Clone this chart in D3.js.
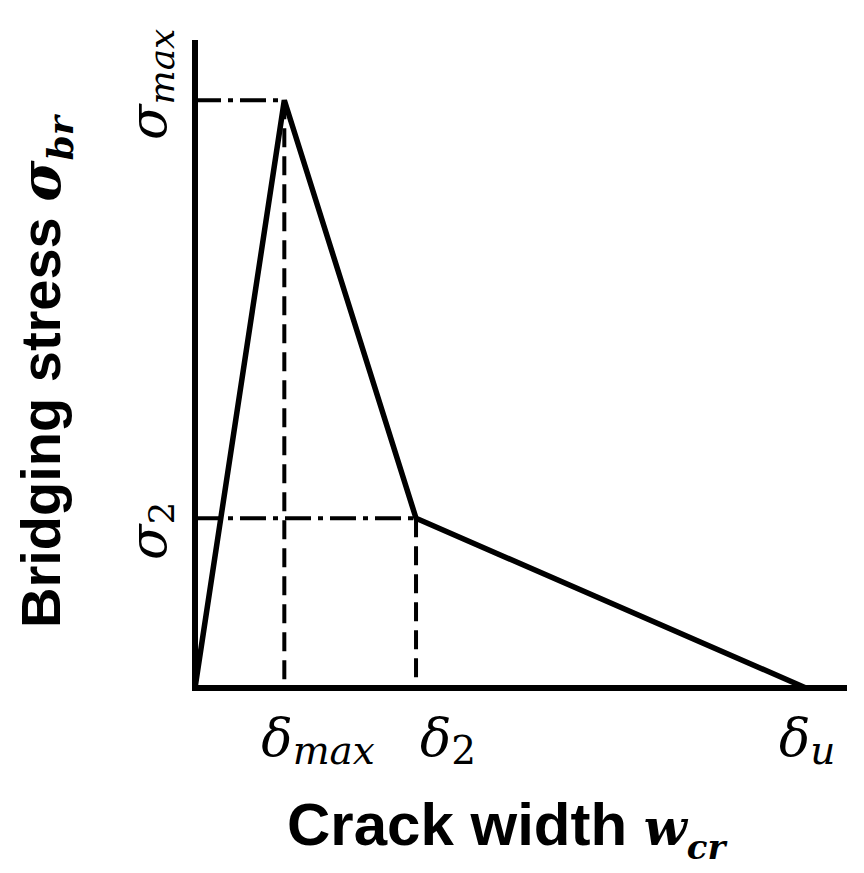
<!DOCTYPE html>
<html>
<head>
<meta charset="utf-8">
<script src="https://cdn.jsdelivr.net/npm/d3@7"></script>
<style>
  body { margin: 0; background: #fff; }
</style>
</head>
<body>
<script>
// chart size
var w = 864;
var h = 873;

// curve corners (crack width, bridging stress) in arbitrary units
var crackWidth = [0, 1.37, 3.39, 9.37];
var stress = [0, 9.07, 2.62, 0];
var xTickNames = ["max", "2", "u"];
var yTickNames = ["max", "2"];

var x = d3.scaleLinear().domain([0, 10]).range([195, 847]);
var y = d3.scaleLinear().domain([0, 10]).range([688, 40]);

var svg = d3.select("body")
  .append("svg")
  .attr("width", w)
  .attr("height", h);

var pts = crackWidth.map(function(d, i) { return [d, stress[i]]; });

// dash-dot guides to the y axis
svg.selectAll("line.hguide")
  .data([1, 2])
  .enter()
  .append("line")
  .attr("class", "hguide")
  .attr("x1", x(0))
  .attr("x2", function(i) { return x(crackWidth[i]); })
  .attr("y1", function(i) { return y(stress[i]); })
  .attr("y2", function(i) { return y(stress[i]); })
  .attr("stroke", "black")
  .attr("stroke-width", 4)
  .attr("stroke-dasharray", "26,7,5,7");

// dashed guides to the x axis
svg.selectAll("line.vguide")
  .data([1, 2])
  .enter()
  .append("line")
  .attr("class", "vguide")
  .attr("x1", function(i) { return x(crackWidth[i]); })
  .attr("x2", function(i) { return x(crackWidth[i]); })
  .attr("y1", function(i) { return y(stress[i]); })
  .attr("y2", y(0))
  .attr("stroke", "black")
  .attr("stroke-width", 4)
  .attr("stroke-dasharray", "19,9");

// the curve
svg.append("path")
  .datum(pts)
  .attr("d", d3.line().x(function(d) { return x(d[0]); }).y(function(d) { return y(d[1]); }))
  .attr("fill", "none")
  .attr("stroke", "black")
  .attr("stroke-width", 5.5)
  .attr("stroke-linejoin", "miter");

// axes
svg.append("line")
  .attr("x1", x(0)).attr("x2", x(0))
  .attr("y1", y(10)).attr("y2", y(0) + 3)
  .attr("stroke", "black").attr("stroke-width", 6);
svg.append("line")
  .attr("x1", x(0) - 3).attr("x2", x(10))
  .attr("y1", y(0)).attr("y2", y(0))
  .attr("stroke", "black").attr("stroke-width", 6);

var mathFont = "'DejaVu Serif', serif";

// x tick labels
var xOff = [-23, 4, -27];
var xt = svg.selectAll("text.xtick")
  .data([1, 2, 3])
  .enter()
  .append("text")
  .attr("class", "xtick")
  .attr("x", function(i, k) { return x(crackWidth[i]) + xOff[k]; })
  .attr("y", 756)
  .attr("font-family", mathFont)
  .attr("font-style", "italic")
  .attr("font-size", "52px");
xt.append("tspan").text("\u03b4");
xt.append("tspan")
  .attr("dy", 8)
  .attr("font-size", "39px")
  .attr("font-style", function(i, k) { return k == 1 ? "normal" : "italic"; })
  .text(function(i, k) { return xTickNames[k]; });

// y tick labels (rotated)
var yStart = [140, 560];
var yt = svg.selectAll("text.ytick")
  .data([1, 2])
  .enter()
  .append("text")
  .attr("class", "ytick")
  .attr("transform", function(i, k) { return "translate(166," + yStart[k] + ") rotate(-90)"; })
  .attr("font-family", mathFont)
  .attr("font-style", "italic")
  .attr("font-size", "52px");
yt.append("tspan").text("\u03c3");
yt.append("tspan")
  .attr("dy", 8)
  .attr("font-size", "36px")
  .attr("font-style", function(i, k) { return k == 1 ? "normal" : "italic"; })
  .text(function(i, k) { return yTickNames[k]; });

// axis titles
var xl = svg.append("text")
  .attr("x", 287)
  .attr("y", 845)
  .attr("font-family", "'Liberation Sans', Arial, sans-serif")
  .attr("font-weight", "bold")
  .attr("font-size", "60px");
xl.append("tspan").text("Crack width ");
xl.append("tspan").attr("font-family", mathFont).attr("font-style", "italic").attr("font-size", "50px").text("w");
xl.append("tspan").attr("font-family", mathFont).attr("font-style", "italic")
  .attr("font-size", "34px").attr("dy", 14).text("cr");

var yl = svg.append("text")
  .attr("transform", "translate(60,628) rotate(-90)")
  .attr("font-family", "'Liberation Sans', Arial, sans-serif")
  .attr("font-weight", "bold")
  .attr("font-size", "56px");
yl.append("tspan").text("Bridging stress ");
yl.append("tspan").attr("font-family", mathFont).attr("font-style", "italic").text("\u03c3");
yl.append("tspan").attr("font-family", mathFont).attr("font-style", "italic")
  .attr("font-size", "36px").attr("dy", 13).text("br");
</script>
</body>
</html>
